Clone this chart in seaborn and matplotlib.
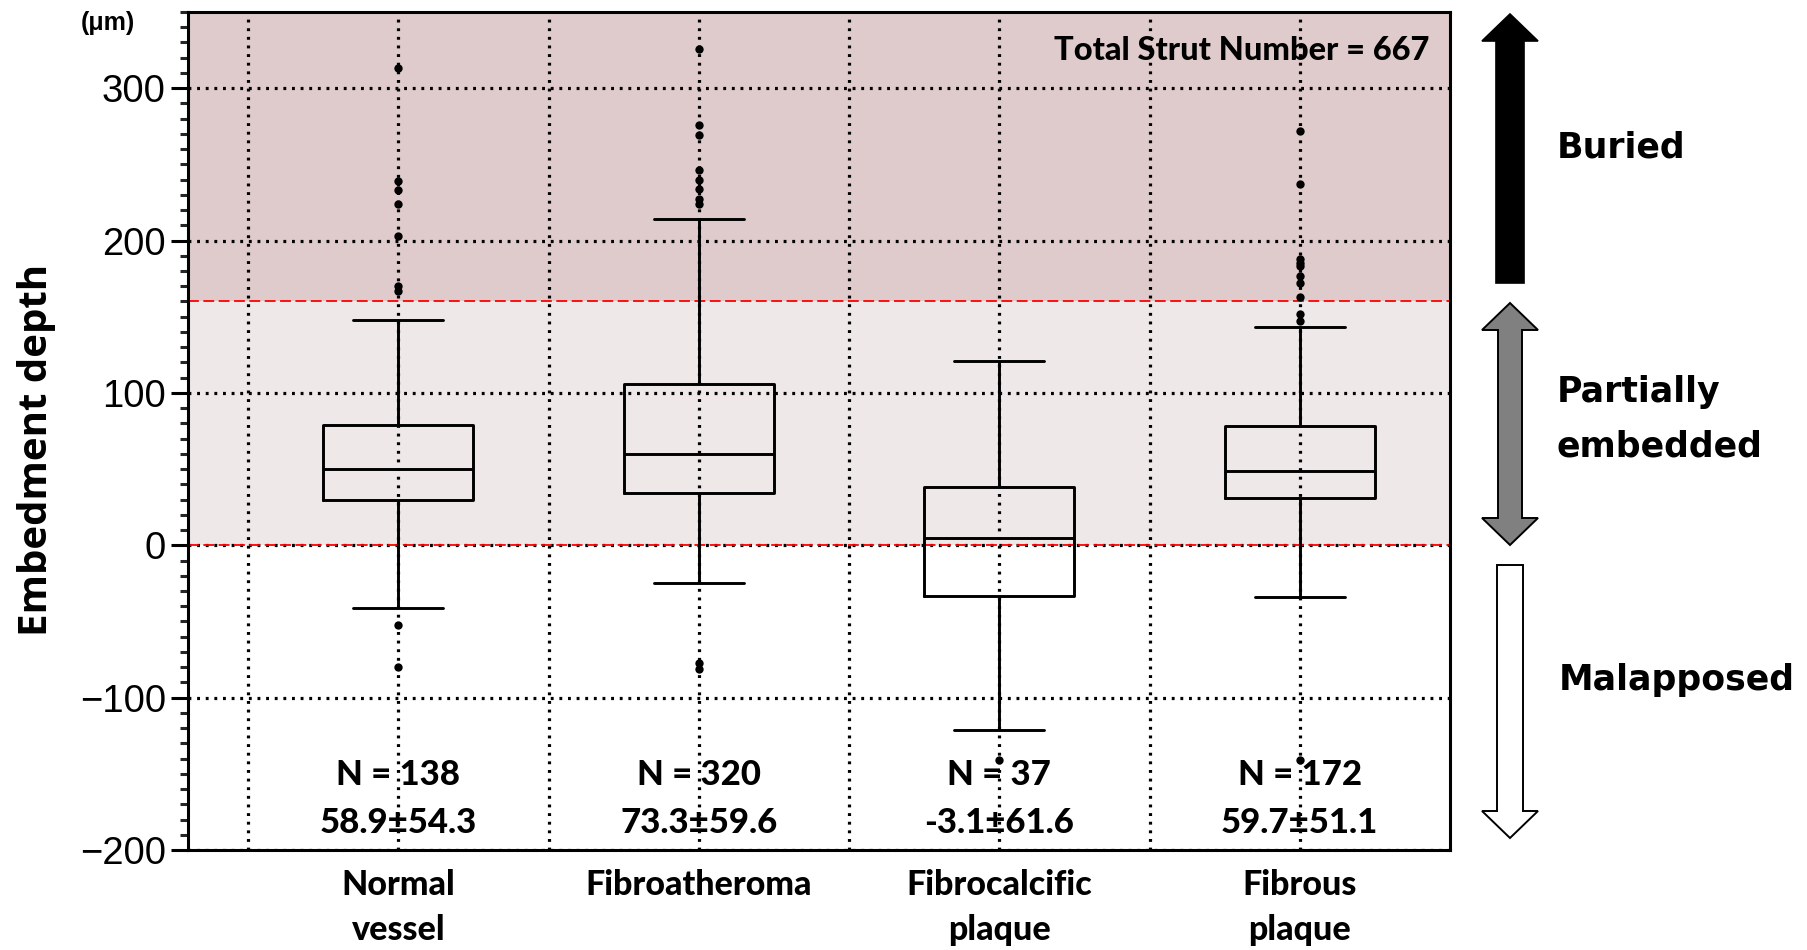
import numpy as np
import pandas as pd
import matplotlib
matplotlib.use("Agg")
import matplotlib.pyplot as plt
import seaborn as sns
from matplotlib.patches import Polygon
from matplotlib.ticker import FixedLocator, MultipleLocator

# ---------------- data ----------------
categories = ["Normal\nvessel", "Fibroatheroma", "Fibrocalcific\nplaque", "Fibrous\nplaque"]
whisker_low = [-41, -25, -121, -34]
q1 = [30, 34, -33, 31]
median = [50, 60, 5, 49]
q3 = [79, 106, 38, 78]
whisker_high = [148, 214, 121, 143]

outliers_normal = [313, 239, 233, 224, 203, 170, 167, -52, -80]
outliers_fibroatheroma = [326, 276, 269, 246, 240, 234, 227, 224, -77, -81]
outliers_fibrocalcific = [-141]
outliers_fibrous = [272, 237, 188, 185, 183, 177, 172, 163, 152, 147, -141]

n_counts = [138, 320, 37, 172]
means = [58.9, 73.3, -3.1, 59.7]
sds = [54.3, 59.6, 61.6, 51.1]

buried_threshold = 160
apposition_threshold = 0
y_min, y_max = -200, 350
y_ticks = [-200, -100, 0, 100, 200, 300]
zone_labels = ["Buried", "Partially\nembedded", "Malapposed"]

# ---------------- style ----------------
sns.set_theme(style="ticks")
plt.rcParams["font.family"] = ["Liberation Sans", "DejaVu Sans"]

W, H = 1808, 950
fig = plt.figure(figsize=(W / 100, H / 100), dpi=100)
ax = fig.add_axes([188 / W, 1 - 850 / H, 1262 / W, 838 / H])

summary = pd.DataFrame({
    "category": np.repeat(categories, 5),
    "value": np.column_stack([whisker_low, q1, median, q3, whisker_high]).ravel(),
})
sns.boxplot(data=summary, x="category", y="value", order=categories,
            whis=(0, 100), width=0.5, fill=False, color="black",
            linewidth=2.1, capwidths=0.3, ax=ax)

out_groups = [outliers_normal, outliers_fibroatheroma, outliers_fibrocalcific, outliers_fibrous]
outliers = pd.DataFrame({
    "category": np.concatenate([[c] * len(v) for c, v in zip(categories, out_groups)]),
    "value": np.concatenate(out_groups),
})
sns.stripplot(data=outliers, x="category", y="value", order=categories,
              jitter=False, color="black", size=6, linewidth=0, ax=ax, zorder=4)

# zones
ax.axhspan(buried_threshold, y_max, color="#dfcbcb", zorder=0, lw=0)
ax.axhspan(apposition_threshold, buried_threshold, color="#eee8e8", zorder=0, lw=0)
for t in (buried_threshold, apposition_threshold):
    ax.axhline(t, color="#ff0000", lw=1.3, ls=(0, (6, 2.5)), zorder=1.5)

ax.set_xlim(-0.7, 3.5)
ax.set_ylim(y_min, y_max)
ax.set_xlabel("")
ax.set_ylabel("")

ax.yaxis.set_major_locator(FixedLocator(y_ticks))
ax.yaxis.set_minor_locator(MultipleLocator(10))
ax.xaxis.set_minor_locator(FixedLocator([i - 0.5 for i in range(len(categories))]))
ax.set_axisbelow(True)
grid_kw = dict(color="black", lw=2.3, ls=(0, (0.9, 1.8)))
ax.grid(axis="y", which="major", **grid_kw)
ax.grid(axis="x", which="both", **grid_kw)
ax.grid(axis="y", which="minor", visible=False)

ax.tick_params(axis="y", which="major", left=True, length=12, width=2.2,
               direction="out", labelsize=27.5, pad=4, colors="black")
ax.tick_params(axis="y", which="minor", left=True, length=6, width=2.2, direction="out")
ax.tick_params(axis="x", which="both", length=0, pad=14)
ax.set_xticks(range(len(categories)))
ax.set_xticklabels(categories, fontfamily="Lato", fontweight="black",
                   fontsize=24.5, linespacing=1.5, color="black")

for s in ax.spines.values():
    s.set_visible(True)
    s.set_color("black")
    s.set_linewidth(2.2)

# annotations in the plot
txt_kw = dict(ha="center", va="center", fontfamily="Lato", fontweight="black",
              fontsize=25, zorder=5, color="black")
for i, (n, m, s) in enumerate(zip(n_counts, means, sds)):
    ax.text(i, -151, f"N = {n}", **txt_kw)
    ax.text(i, -182, f"{m}\u00b1{s}", **txt_kw)
ax.text(3.43, 325, f"Total Strut Number = {sum(n_counts)}", ha="right", va="center",
        fontfamily="Lato", fontweight="black", fontsize=23.5, zorder=5, color="black")

# ---------------- overlay for arrows and outer labels (pixel coords) ----------------
ov = fig.add_axes([0, 0, 1, 1])
ov.set_xlim(0, W)
ov.set_ylim(H, 0)
ov.axis("off")
ov.patch.set_alpha(0)


def arrow_poly(xc, y_tail, y_tip, sw, hw, hl):
    d = 1 if y_tip > y_tail else -1
    hb = y_tip - d * hl
    return [(xc - sw / 2, y_tail), (xc - sw / 2, hb), (xc - hw / 2, hb), (xc, y_tip),
            (xc + hw / 2, hb), (xc + sw / 2, hb), (xc + sw / 2, y_tail)]


def double_arrow_poly(xc, y1, y2, sw, hw, hl):
    a, b = y1 + hl, y2 - hl
    return [(xc, y1), (xc + hw / 2, a), (xc + sw / 2, a), (xc + sw / 2, b), (xc + hw / 2, b),
            (xc, y2), (xc - hw / 2, b), (xc - sw / 2, b), (xc - sw / 2, a), (xc - hw / 2, a)]


XC, SW, HW, HL = 1510, 28, 56, 27
ov.add_patch(Polygon(arrow_poly(XC, 283, 14, SW, HW, HL), closed=True,
                     facecolor="black", edgecolor="black", lw=1.2))
ov.add_patch(Polygon(double_arrow_poly(XC, 303, 545, SW - 4, HW, HL), closed=True,
                     facecolor="#808080", edgecolor="black", lw=1.4))
ov.add_patch(Polygon(arrow_poly(XC, 565, 838, SW - 2, HW, HL), closed=True,
                     facecolor="white", edgecolor="black", lw=1.4))

label_kw = dict(fontfamily="DejaVu Sans", fontweight="bold", fontsize=25,
                ha="left", va="center", color="black")
ov.text(1557, 148, zone_labels[0], **label_kw)
ov.text(1557, 419, zone_labels[1], linespacing=1.75, **label_kw)
ov.text(1559, 680, zone_labels[2], **label_kw)

ov.text(37, 450, "Embedment depth", rotation=90, ha="center", va="center",
        fontfamily="Open Sans", fontweight="bold", fontsize=29, color="black")
ov.text(108, 23, "(\u03bcm)", ha="center", va="center", fontfamily="Liberation Sans",
        fontweight="bold", fontsize=18, color="black")

fig.savefig("out.png", dpi=100)
